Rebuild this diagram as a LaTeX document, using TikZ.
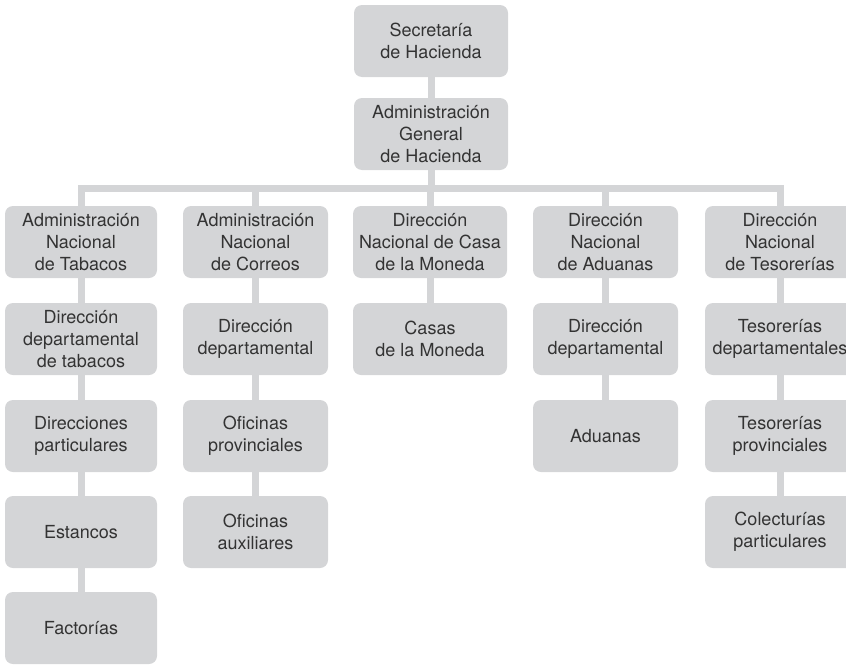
\documentclass[tikz,border=0pt]{standalone}
\usepackage{fontspec}
\setmainfont{TeX Gyre Heros}
\usetikzlibrary{backgrounds}
\definecolor{boxgray}{HTML}{D4D5D7}
\definecolor{inkgray}{HTML}{333333}

\begin{document}
\begin{tikzpicture}[x=1pt,y=-1pt,
        office/.style={fill=boxgray,text=inkgray,rounded corners=8pt,align=center,
            minimum height=72pt,minimum width=#1,inner sep=0pt,
            font=\fontsize{18}{21.7}\selectfont},
        office/.default=150pt,
        link/.style={draw=boxgray,line width=7pt}]
        \useasboundingbox (0,0) rectangle (846,664);
        % top of the tree
        \node[office=154pt] (sec) at (431,41) {Secretaría\\de Hacienda};
        \node[office=154pt] (agh) at (431,134) {Administración\\General\\de Hacienda};
        \coordinate (bus) at (431,188);
        % tabacos
        \node[office=152pt] (tab)  at (81,242) {Administración\\Nacional\\de Tabacos};
        \node[office=152pt] (tab2) at (81,339) {Dirección\\departamental\\de tabacos};
        \node[office=152pt] (tab3) at (81,436) {Direcciones\\particulares};
        \node[office=152pt] (tab4) at (81,532) {Estancos};
        \node[office=152pt] (tab5) at (81,628) {Factorías};
        % correos
        \node[office=145pt] (cor)  at (255.5,242) {Administración\\Nacional\\de Correos};
        \node[office=145pt] (cor2) at (255.5,339) {Dirección\\departamental};
        \node[office=145pt] (cor3) at (255.5,436) {Oficinas\\provinciales};
        \node[office=145pt] (cor4) at (255.5,532) {Oficinas\\auxiliares};
        % moneda
        \node[office=154pt] (mon)  at (430,242) {Dirección\\Nacional de Casa\\de la Moneda};
        \node[office=154pt] (mon2) at (430,339) {Casas\\de la Moneda};
        % aduanas
        \node[office=145pt] (adu)  at (605.5,242) {Dirección\\Nacional\\de Aduanas};
        \node[office=145pt] (adu2) at (605.5,339) {Dirección\\departamental};
        \node[office=145pt] (adu3) at (605.5,436) {Aduanas};
        % tesorerias
        \node[office] (tes)  at (780,242) {Dirección\\Nacional\\de Tesorerías};
        \node[office] (tes2) at (780,339) {Tesorerías\\departamentales};
        \node[office] (tes3) at (780,436) {Tesorerías\\provinciales};
        \node[office] (tes4) at (780,532) {Colecturías\\particulares};

        \begin{scope}[on background layer]
            \draw[link] (sec) -- (agh);
            \draw[link] (agh) -- (agh |- bus);
            \draw[link] (tab.north) |- (bus) -| (tes.north);
            \foreach \c in {cor,mon,adu}
                \draw[link] (\c.north) -- (\c |- bus);
            \foreach \a/\b in {tab/tab2,tab2/tab3,tab3/tab4,tab4/tab5,
                    cor/cor2,cor2/cor3,cor3/cor4,mon/mon2,adu/adu2,adu2/adu3,
                    tes/tes2,tes2/tes3,tes3/tes4}
                \draw[link] (\a) -- (\b);
        \end{scope}
    \end{tikzpicture}
\end{document}
